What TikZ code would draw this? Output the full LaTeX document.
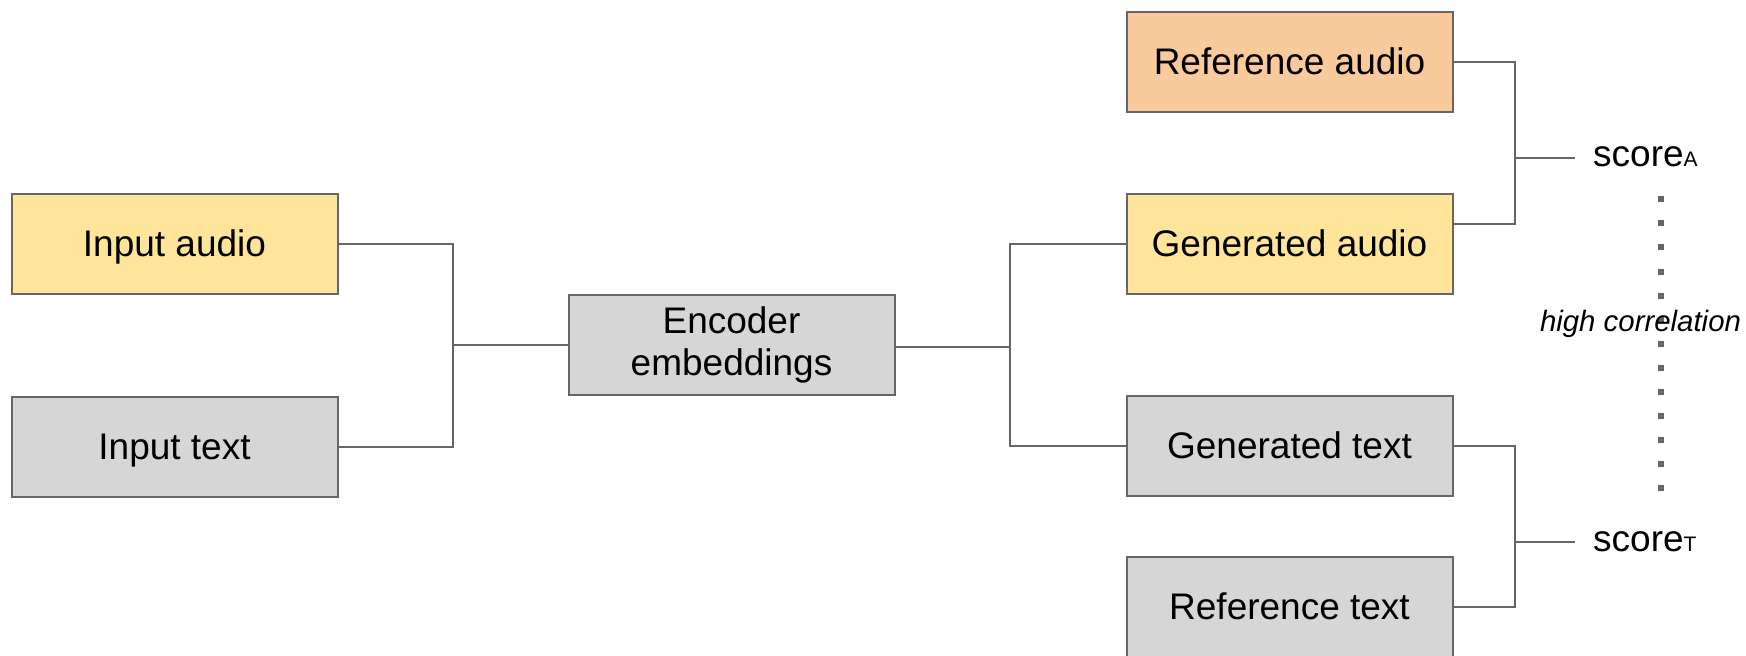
\documentclass[tikz,border=0pt]{standalone}
\usepackage{fontspec}
\setmainfont{Liberation Sans}
\definecolor{linegray}{HTML}{666666}
\definecolor{fillgray}{HTML}{D6D6D6}
\definecolor{fillyellow}{HTML}{FFE599}
\definecolor{fillorange}{HTML}{F9CB9C}
% invisible strut with the font's full ascent and descent, so labels sit centred like a line box
\newcommand\boxstrut{\rule[-0.212em]{0pt}{1.117em}}
\begin{document}
\begin{tikzpicture}[x=1pt, y=-1pt,
  box/.style={draw=linegray, line width=2pt, minimum width=326pt, minimum height=100pt,
    inner sep=0pt, align=center, font=\fontsize{37}{42}\selectfont,
    execute at begin node=\boxstrut, execute at end node=\boxstrut},
  link/.style={draw=linegray, line width=2pt},
  scorelabel/.style={anchor=base west, inner sep=0pt, font=\fontsize{37}{42}\selectfont},
]
\useasboundingbox (0,0) rectangle (1746,656);

% input side
\node[box, fill=fillyellow] (ia) at (174.5,243.5) {Input audio};
\node[box, fill=fillgray]   (it) at (174.5,446.5) {Input text};
\node[box, fill=fillgray]   (enc) at (731.5,345) {Encoder\\embeddings};

% output side
\node[box, fill=fillorange] (ra) at (1289.5,61.75) {Reference audio};
\node[box, fill=fillyellow] (ga) at (1289.5,243.5) {Generated audio};
\node[box, fill=fillgray]   (gt) at (1289.5,446)   {Generated text};
\node[box, fill=fillgray]   (rt) at (1289.5,606.5) {Reference text};

% scores
\node[scorelabel] (sa) at (1593,166.7) {score{\fontsize{21}{21}\selectfont A}};
\node[scorelabel] (st) at (1593,551) {score{\fontsize{21}{21}\selectfont T}};

% junction points
\coordinate (jL) at (453,345);
\coordinate (jR) at (1010,347.3);
\coordinate (jA) at (1514.5,157.7);
\coordinate (jT) at (1514.5,541.7);
\coordinate (eA) at (1575,157.7);
\coordinate (eT) at (1575,541.7);

% connectors
\draw[link] (ia.east) -| (jL) |- (it.east);
\draw[link] (jL) -- (enc.west);
\draw[link] ([yshift=-2.3pt]enc.east) -- (jR);
\draw[link] (ga.west) -| (jR) |- (gt.west);
\draw[link] (ra.east) -| (jA) |- ([yshift=19.5pt]ga.east);
\draw[link] (jA) -- (eA);
\draw[link] (gt.east) -| (jT) |- (rt.east);
\draw[link] (jT) -- (eT);

% dotted link between the two scores
\coordinate (dTop) at (1661,196.3);
\coordinate (dBot) at (1661,491);
\draw[linegray, line width=6pt, dash pattern=on 6pt off 18.08pt] (dTop) -- (dBot);
\node[inner sep=0pt, anchor=base, font=\fontsize{29.4}{34}\selectfont\itshape] (hc) at (1640.5,331.7) {high correlation};
\end{tikzpicture}
\end{document}
